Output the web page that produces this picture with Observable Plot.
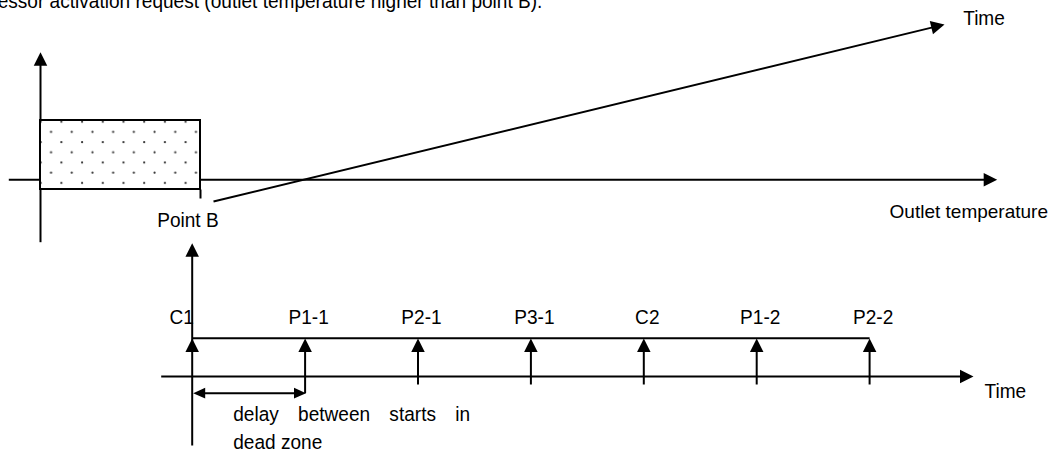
<!DOCTYPE html>
<html>
<head>
<meta charset="utf-8">
<script src="https://cdn.jsdelivr.net/npm/d3@7"></script>
<script src="https://cdn.jsdelivr.net/npm/@observablehq/plot@0.6"></script>
<style>
  html, body { margin: 0; padding: 0; background: white; overflow: hidden; }
</style>
</head>
<body>
<div id="chart"></div>
<script>
// ---- content (values) ----
const title = "Compressor activation request (outlet temperature higher than point B).";
const events = ["C1", "P1-1", "P2-1", "P3-1", "C2", "P1-2", "P2-2"];
const eventStep = [0, 1, 2, 3, 4, 5, 6];
const topAxisTitles = ["Time", "Outlet temperature"];
const bottomAxisTitle = "Time";
const pointLabel = "Point B";
const delayNote = ["delay between starts in", "dead zone"];

// ---- layout (canvas in pixel units) ----
const W = 1053, H = 452;
const T0 = 191.7, STEP = 112.9;      // timeline origin and step
const evData = eventStep.map((s, i) => ({label: events[i], step: s, x: T0 + STEP * s}));

// diagonal "Time" direction
const diagStart = [213, 201], diagTip = [944, 24];
const dlen = Math.hypot(diagTip[0] - diagStart[0], diagTip[1] - diagStart[1]);
const ux = (diagTip[0] - diagStart[0]) / dlen, uy = (diagTip[1] - diagStart[1]) / dlen;
const diagAngle = Math.atan2(ux, -uy) * 180 / Math.PI;

const segments = [
  {x1: 40, y1: 64, x2: 40, y2: 241.7},               // temperature chart vertical axis
  {x1: 8.3, y1: 179.3, x2: 984, y2: 179.3},          // outlet temperature axis
  {x1: diagStart[0], y1: diagStart[1], x2: diagTip[0] - 8 * ux, y2: diagTip[1] - 8 * uy},
  {x1: T0, y1: 250, x2: T0, y2: 445},                // Point B / C1 line
  {x1: T0, y1: 337.7, x2: T0 + STEP * 6, y2: 337.7}, // upper timeline
  {x1: 160.7, y1: 376, x2: 962, y2: 376},            // time axis
  {x1: 199, y1: 392.7, x2: 299, y2: 392.7}           // delay arrow shaft
];
const eventStems = evData.filter(d => d.step > 0).map(d => ({
  x1: d.x, x2: d.x, y1: d.step === 1 ? 392.7 : 384, y2: 346
}));

const heads = [
  {x: 40, y: 51.7, r: 0},
  {x: 996.7, y: 179.3, r: 90},
  {x: diagTip[0], y: diagTip[1], r: diagAngle},
  {x: T0, y: 242.7, r: 0},
  {x: 973, y: 376, r: 90},
  ...evData.map(d => ({x: d.x, y: 338, r: 0}))
];
const smallHeads = [
  {x: 192.7, y: 392.7, r: -90},
  {x: 305.5, y: 392.7, r: 90}
];

function headSymbol(halfRatio) {
  return {
    draw(ctx, size) {
      const L = Math.sqrt(size / Math.PI);
      ctx.moveTo(0, 0);
      ctx.lineTo(L * halfRatio, L);
      ctx.lineTo(-L * halfRatio, L);
      ctx.closePath();
    }
  };
}

const FS = 20.5;          // font size (glyphs are narrowed below)
const FS2 = 19;           // right-edge label, not narrowed
const NARROW = 0.93;      // horizontal condensing of the reference's font
const mid = FS * 0.32;    // baseline -> middle anchor offset

const plot = Plot.plot({
  width: W,
  height: H,
  margin: 0,
  x: {domain: [0, W], range: [0, W], axis: null},
  y: {domain: [0, H], range: [0, H], axis: null},
  style: {fontFamily: "'Liberation Sans', Arial, sans-serif", fontSize: FS + "px", background: "white", color: "black"},
  marks: [
    Plot.link(segments, {x1: "x1", y1: "y1", x2: "x2", y2: "y2", stroke: "black", strokeWidth: 2}),
    Plot.link(eventStems, {x1: "x1", y1: "y1", x2: "x2", y2: "y2", stroke: "black", strokeWidth: 2}),
    // dead-zone box (covers the axis inside)
    Plot.rect([{x1: 40, x2: 200, y1: 120, y2: 189}], {x1: "x1", x2: "x2", y1: "y1", y2: "y2", fill: "url(#dots)", stroke: "black", strokeWidth: 2}),
    Plot.link([{x1: 200, y1: 189, x2: 200, y2: 198}], {x1: "x1", y1: "y1", x2: "x2", y2: "y2", stroke: "black", strokeWidth: 2}),
    Plot.dot(heads, {x: "x", y: "y", rotate: "r", symbol: headSymbol(0.5), r: 13.5, fill: "black", stroke: "none"}),
    Plot.dot(smallHeads, {x: "x", y: "y", rotate: "r", symbol: headSymbol(0.45), r: 12, fill: "black", stroke: "none"}),
    // texts
    Plot.text([title], {x: -60, y: 7.5 - mid, text: d => d, textAnchor: "start", fontSize: FS}),
    Plot.text([topAxisTitles[0]], {x: 962.7, y: 24 - mid, text: d => d, textAnchor: "start", fontSize: FS}),
    Plot.text([topAxisTitles[1]], {x: 1047.5, y: 217.3 - FS2 * 0.32, text: d => d, textAnchor: "end", fontSize: FS2}),
    Plot.text([pointLabel], {x: 156.7, y: 226.7 - mid, text: d => d, textAnchor: "start", fontSize: FS}),
    Plot.text(evData.filter(d => d.step === 0), {x: "x", y: 323 - mid, text: "label", textAnchor: "end", dx: 1.6, fontSize: FS}),
    Plot.text(evData.filter(d => d.step > 0), {x: "x", y: 323 - mid, text: "label", textAnchor: "middle", dx: 3.5, fontSize: FS}),
    Plot.text([bottomAxisTitle], {x: 984, y: 397.3 - mid, text: d => d, textAnchor: "start", fontSize: FS}),
    Plot.text([delayNote[0]], {x: 232.7, y: 420.7 - mid, text: d => d, textAnchor: "start", fontSize: FS}),
    Plot.text([delayNote[1]], {x: 232.7, y: 448.7 - mid, text: d => d, textAnchor: "start", fontSize: FS})
  ]
});

// dotted fill pattern
const ns = "http://www.w3.org/2000/svg";
const defs = document.createElementNS(ns, "defs");
const pat = document.createElementNS(ns, "pattern");
pat.setAttribute("id", "dots");
pat.setAttribute("patternUnits", "userSpaceOnUse");
pat.setAttribute("x", 35.7);
pat.setAttribute("y", 116.7);
pat.setAttribute("width", 20.7);
pat.setAttribute("height", 20.4);
const bg = document.createElementNS(ns, "rect");
bg.setAttribute("width", 20.7); bg.setAttribute("height", 20.4); bg.setAttribute("fill", "white");
pat.appendChild(bg);
for (const [cx, cy] of [[5, 5], [15.35, 15.2]]) {
  const c = document.createElementNS(ns, "circle");
  c.setAttribute("cx", cx); c.setAttribute("cy", cy); c.setAttribute("r", 1.1); c.setAttribute("fill", "#333");
  pat.appendChild(c);
}
defs.appendChild(pat);
plot.insertBefore(defs, plot.firstChild);

document.getElementById("chart").appendChild(plot);

// condense the text glyphs horizontally like the reference font
for (const t of plot.querySelectorAll("text")) {
  if (t.textContent === topAxisTitles[1]) continue;
  if (t.textContent === delayNote[0]) t.style.wordSpacing = "15px";
  const L = t.getComputedTextLength();
  if (L > 0) {
    t.setAttribute("textLength", (L * NARROW).toFixed(2));
    t.setAttribute("lengthAdjust", "spacingAndGlyphs");
  }
}
</script>
</body>
</html>
